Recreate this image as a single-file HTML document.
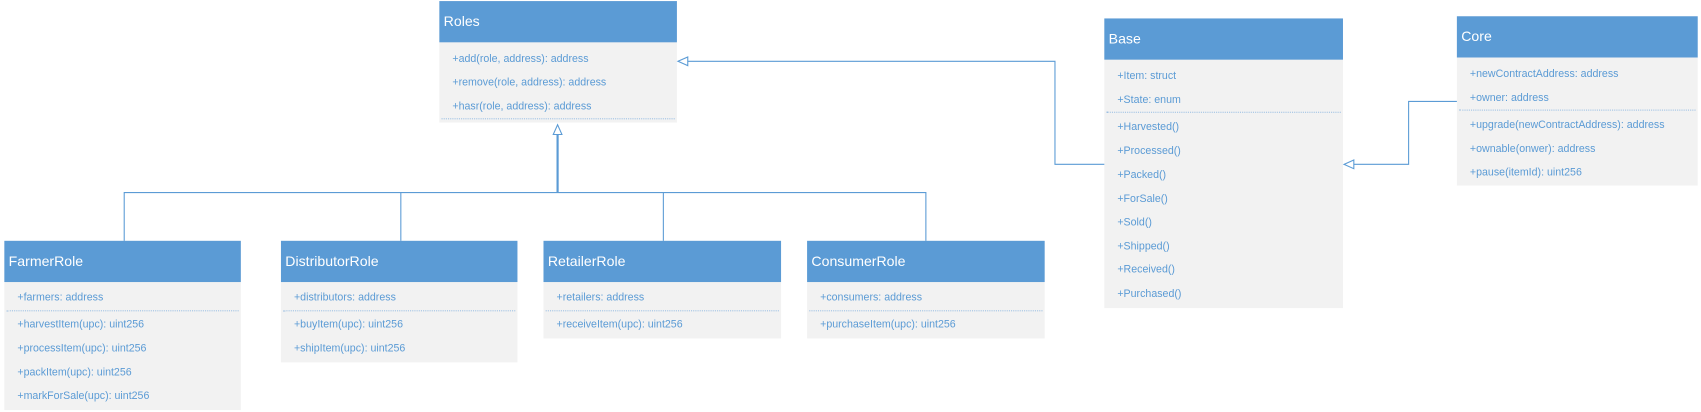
<!DOCTYPE html>
<html><head><meta charset="utf-8"><style>
body{margin:0;width:1701px;height:412px;background:#fff;position:relative;overflow:hidden;font-family:"Liberation Sans","DejaVu Sans",sans-serif}
#w{position:absolute;left:0;top:0;width:1568px;height:380px;transform:scale(1.0848);transform-origin:0 0}
.b{position:absolute;background:#f2f2f2}
.h{position:absolute;left:0;right:0;top:0;height:38px;background:#5b9bd5;color:#fff;font-size:13px;line-height:38px;padding-left:4px;box-sizing:border-box}
.t{position:absolute;left:12px;font-size:9.8px;color:#5b9bd5;white-space:nowrap;line-height:12px;margin-top:1.5px}
.d{position:absolute;left:2px;right:2px;border-top:1px dotted #9dc0e3}
svg{position:absolute;left:0;top:0}
</style></head><body><div id="w">

<div class="b" style="left:405px;top:1px;width:219px;height:112px">
<div class="h">Roles</div>
<div class="t" style="top:46px">+add(role, address): address</div>
<div class="t" style="top:68px">+remove(role, address): address</div>
<div class="t" style="top:90px">+hasr(role, address): address</div>
<div class="d" style="top:108px"></div>
</div>

<div class="b" style="left:1018px;top:17px;width:220px;height:267px">
<div class="h">Base</div>
<div class="t" style="top:46px">+Item: struct</div>
<div class="t" style="top:68px">+State: enum</div>
<div class="d" style="top:86px"></div>
<div class="t" style="top:93px">+Harvested()</div>
<div class="t" style="top:115px">+Processed()</div>
<div class="t" style="top:137px">+Packed()</div>
<div class="t" style="top:159px">+ForSale()</div>
<div class="t" style="top:181px">+Sold()</div>
<div class="t" style="top:203px">+Shipped()</div>
<div class="t" style="top:224px">+Received()</div>
<div class="t" style="top:247px">+Purchased()</div>
</div>

<div class="b" style="left:1343px;top:15px;width:222px;height:156px">
<div class="h">Core</div>
<div class="t" style="top:46px">+newContractAddress: address</div>
<div class="t" style="top:68px">+owner: address</div>
<div class="d" style="top:86px"></div>
<div class="t" style="top:93px">+upgrade(newContractAddress): address</div>
<div class="t" style="top:115px">+ownable(onwer): address</div>
<div class="t" style="top:137px">+pause(itemId): uint256</div>
</div>

<div class="b" style="left:4px;top:222px;width:218px;height:156px">
<div class="h">FarmerRole</div>
<div class="t" style="top:45px">+farmers: address</div>
<div class="d" style="top:64px"></div>
<div class="t" style="top:70px">+harvestItem(upc): uint256</div>
<div class="t" style="top:92px">+processItem(upc): uint256</div>
<div class="t" style="top:114px">+packItem(upc): uint256</div>
<div class="t" style="top:136px">+markForSale(upc): uint256</div>
</div>

<div class="b" style="left:259px;top:222px;width:218px;height:112px">
<div class="h">DistributorRole</div>
<div class="t" style="top:45px">+distributors: address</div>
<div class="d" style="top:64px"></div>
<div class="t" style="top:70px">+buyItem(upc): uint256</div>
<div class="t" style="top:92px">+shipItem(upc): uint256</div>
</div>

<div class="b" style="left:501px;top:222px;width:219px;height:90px">
<div class="h">RetailerRole</div>
<div class="t" style="top:45px">+retailers: address</div>
<div class="d" style="top:64px"></div>
<div class="t" style="top:70px">+receiveItem(upc): uint256</div>
</div>

<div class="b" style="left:744px;top:222px;width:219px;height:90px">
<div class="h">ConsumerRole</div>
<div class="t" style="top:45px">+consumers: address</div>
<div class="d" style="top:64px"></div>
<div class="t" style="top:70px">+purchaseItem(upc): uint256</div>
</div>

<svg width="1568" height="380" fill="none" stroke="#5b9bd5" stroke-width="1">
<polyline points="114.5,222 114.5,177.5 853.5,177.5 853.5,222"/>
<line x1="369.5" y1="177" x2="369.5" y2="222"/>
<line x1="611.5" y1="177" x2="611.5" y2="222"/>
<line x1="514" y1="177" x2="514" y2="124" stroke-width="2"/>
<polygon points="514,115 510,124 518,124" fill="#fff"/>
<polyline points="634,56.5 972.5,56.5 972.5,151.5 1018,151.5"/>
<polygon points="625,56.5 634,52.5 634,60.5" fill="#fff"/>
<polyline points="1248,151.5 1298.5,151.5 1298.5,93.5 1343,93.5"/>
<polygon points="1239,151.5 1248,147.5 1248,155.5" fill="#fff"/>
</svg>
</div></body></html>
